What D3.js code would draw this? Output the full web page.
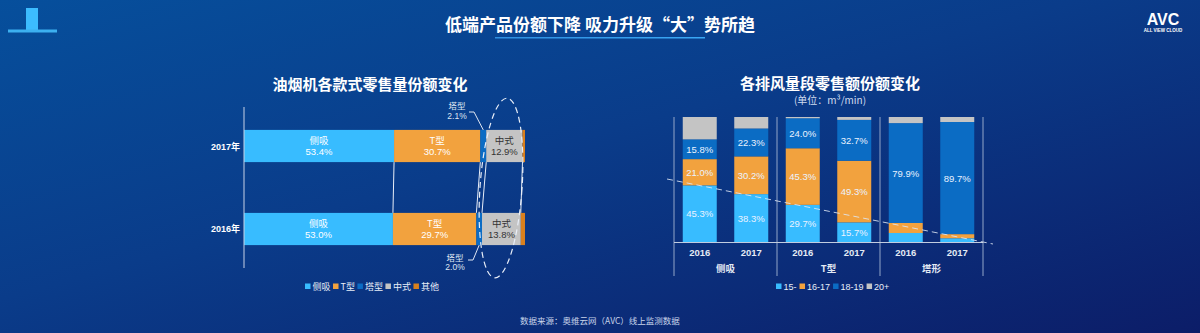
<!DOCTYPE html>
<html><head><meta charset="utf-8">
<script src="https://cdn.jsdelivr.net/npm/d3@7"></script>
<style>
html,body{margin:0;padding:0;background:#0a3a86;}
svg{display:block;font-family:"Liberation Sans","Noto Sans CJK SC",sans-serif;}
</style></head>
<body><svg id="c" width="1200" height="333"></svg>
<script>
// ---- data: left chart ----
const leftYears = ["2017年", "2016年"];
const leftCats = ["侧吸", "T型", "塔型", "中式", "其他"];
const share2017 = [53.4, 30.7, 2.1, 12.9, 0.9];
const share2016 = [53.0, 29.7, 2.0, 13.8, 1.5];
// ---- data: right chart ----
const groups = ["侧吸", "T型", "塔形"];
const years = ["2016", "2017"];
const bands = ["15-", "16-17", "18-19", "20+"];
const v15 = [45.3, 38.3, 29.7, 15.7, 7.2, 3.0];
const v1617 = [21.0, 30.2, 45.3, 49.3, 8.0, 3.3];
const v1819 = [15.8, 22.3, 24.0, 32.7, 79.9, 89.7];
const v20 = [17.9, 9.2, 1.0, 2.3, 4.9, 4.0];

const leftColors = ["#38bcff", "#f2a23e", "#0b6cc4", "#c4c4c4", "#d9801e"];
const rightColors = ["#38bcff", "#f2a23e", "#0b6cc4", "#c4c4c4"];

const svg = d3.select("#c");
const defs = svg.append("defs");
const bg = defs.append("linearGradient").attr("id", "bg").attr("x1", 0).attr("y1", 0).attr("x2", 1).attr("y2", 1);
bg.append("stop").attr("offset", "0%").attr("stop-color", "#064f9c");
bg.append("stop").attr("offset", "45%").attr("stop-color", "#0a3c8a");
bg.append("stop").attr("offset", "100%").attr("stop-color", "#0c1d68");
svg.append("rect").attr("width", 1200).attr("height", 333).attr("fill", "url(#bg)");
const ul = defs.append("linearGradient").attr("id", "ul");
ul.append("stop").attr("offset", "0%").attr("stop-color", "#2f8fe0");
ul.append("stop").attr("offset", "100%").attr("stop-color", "#3aa8f5");

// top-left icon
svg.append("rect").attr("x", 26).attr("y", 8).attr("width", 12).attr("height", 22).attr("fill", "#3cbcff");
svg.append("rect").attr("x", 8).attr("y", 29.5).attr("width", 49).attr("height", 3).attr("fill", "#3cb0f0");

// main title
svg.append("text").attr("x", 600).attr("y", 31).attr("text-anchor", "middle")
  .attr("fill", "#fff").attr("font-size", 17).attr("font-weight", "bold")
  .attr("font-family", "Noto Sans CJK SC")
  .text("低端产品份额下降 吸力升级“大”势所趋");
svg.append("rect").attr("x", 495).attr("y", 37).attr("width", 210).attr("height", 1.5).attr("fill", "url(#ul)");

// logo
svg.append("text").attr("x", 1163).attr("y", 25).attr("text-anchor", "middle").attr("fill", "#fff")
  .attr("font-size", 16).attr("font-weight", "bold").text("AVC");
svg.append("text").attr("x", 1163).attr("y", 31.5).attr("text-anchor", "middle").attr("fill", "#fff")
  .attr("font-size", 4.5).attr("font-weight", "bold").text("ALL VIEW CLOUD");

// source
svg.append("text").attr("x", 600).attr("y", 324).attr("text-anchor", "middle").attr("fill", "#c8d4ea")
  .attr("font-size", 8.5).attr("font-family", "Noto Sans CJK SC").text("数据来源：奥维云网（AVC）线上监测数据");

// ================= LEFT CHART =================
const L = svg.append("g");
L.append("text").attr("x", 370).attr("y", 90).attr("text-anchor", "middle").attr("fill", "#fff")
  .attr("font-size", 15).attr("font-weight", "bold").attr("font-family", "Noto Sans CJK SC")
  .text("油烟机各款式零售量份额变化");

const lx = d3.scaleLinear().domain([0, 100]).range([244, 525]);
const ly = d3.scaleBand().domain(leftYears).range([105, 270]).paddingInner(0.612).paddingOuter(0.3);
const leftData = { "2017年": share2017, "2016年": share2016 };

function cum(arr) { let s = 0; return arr.map(v => { const a = s; s += v; return [a, s]; }); }

// connectors between bars
const c17 = cum(share2017), c16 = cum(share2016);
for (let i = 0; i < 4; i++) {
  L.append("line").attr("x1", lx(c17[i][1])).attr("y1", ly("2017年") + ly.bandwidth())
    .attr("x2", lx(c16[i][1])).attr("y2", ly("2016年"))
    .attr("stroke", "#e8eef8").attr("stroke-width", 1);
}

leftYears.forEach(yr => {
  const segs = cum(leftData[yr]);
  const g = L.append("g");
  g.selectAll("rect").data(segs).join("rect")
    .attr("x", d => lx(d[0])).attr("width", d => lx(d[1]) - lx(d[0]))
    .attr("y", ly(yr)).attr("height", ly.bandwidth())
    .attr("fill", (d, i) => leftColors[i]);
  segs.forEach((d, i) => {
    if (leftData[yr][i] < 5) return;
    const cx = (lx(d[0]) + lx(d[1])) / 2, cy = ly(yr) + ly.bandwidth() / 2;
    const col = i === 3 ? "#333" : "#fff";
    g.append("text").attr("x", cx).attr("y", cy - 2).attr("text-anchor", "middle").attr("fill", col)
      .attr("font-size", 9.5).attr("font-family", "Noto Sans CJK SC").text(leftCats[i]);
    g.append("text").attr("x", cx).attr("y", cy + 9).attr("text-anchor", "middle").attr("fill", col)
      .attr("font-size", 9.5).text(leftData[yr][i].toFixed(1) + "%");
  });
  L.append("text").attr("x", 240).attr("y", ly(yr) + ly.bandwidth() / 2 + 3.5).attr("text-anchor", "end")
    .attr("fill", "#fff").attr("font-size", 9).attr("font-weight", "bold").text(yr);
});
// axis line
L.append("line").attr("x1", 244).attr("x2", 244).attr("y1", 107).attr("y2", 268).attr("stroke", "#c8d2e6").attr("stroke-width", 1);

// tower annotations
const t17 = (lx(c17[2][0]) + lx(c17[2][1])) / 2;
L.append("path").attr("d", `M469,112 L474,112 L${t17},${ly("2017年")}`).attr("fill", "none").attr("stroke", "#dfe6f2");
L.append("text").attr("x", 457).attr("y", 109).attr("text-anchor", "middle").attr("fill", "#dfe6f2")
  .attr("font-size", 8.5).attr("font-family", "Noto Sans CJK SC").text("塔型");
L.append("text").attr("x", 457).attr("y", 119).attr("text-anchor", "middle").attr("fill", "#dfe6f2")
  .attr("font-size", 8.5).text(share2017[2].toFixed(1) + "%");
const t16 = (lx(c16[2][0]) + lx(c16[2][1])) / 2;
L.append("path").attr("d", `M${t16},${ly("2016年") + ly.bandwidth()} L473,260 L468,260`).attr("fill", "none").attr("stroke", "#dfe6f2");
L.append("text").attr("x", 455).attr("y", 261).attr("text-anchor", "middle").attr("fill", "#dfe6f2")
  .attr("font-size", 8.5).attr("font-family", "Noto Sans CJK SC").text("塔型");
L.append("text").attr("x", 455).attr("y", 270).attr("text-anchor", "middle").attr("fill", "#dfe6f2")
  .attr("font-size", 8.5).text(share2016[2].toFixed(1) + "%");

// dashed ellipse
L.append("ellipse").attr("cx", 0).attr("cy", 0).attr("rx", 21).attr("ry", 90)
  .attr("transform", "translate(501,188) rotate(4)")
  .attr("fill", "none").attr("stroke", "#e8eef8").attr("stroke-width", 1.2).attr("stroke-dasharray", "6,4");

// left legend
const llg = L.append("g").attr("transform", "translate(305,287)");
let lxp = 0;
leftCats.forEach((c, i) => {
  llg.append("rect").attr("x", lxp).attr("y", -3.5).attr("width", 5.5).attr("height", 5.5).attr("fill", leftColors[i]);
  const t = llg.append("text").attr("x", lxp + 7.5).attr("y", 2.5).attr("fill", "#e8eef8").attr("font-size", 9)
    .attr("font-family", "Noto Sans CJK SC").text(c);
  lxp += 7.5 + t.node().getComputedTextLength() + 2.5;
});

// ================= RIGHT CHART =================
const R = svg.append("g");
R.append("text").attr("x", 830).attr("y", 89).attr("text-anchor", "middle").attr("fill", "#fff")
  .attr("font-size", 15).attr("font-weight", "bold").attr("font-family", "Noto Sans CJK SC")
  .text("各排风量段零售额份额变化");
R.append("text").attr("x", 830).attr("y", 104).attr("text-anchor", "middle").attr("fill", "#d0dcef")
  .attr("font-size", 10).attr("font-family", "Noto Sans CJK SC").text("(单位：m³/min)");

const gx = d3.scaleBand().domain(groups).range([674, 983]).padding(0);
const bx = d3.scaleBand().domain(years).range([0, gx.bandwidth()]).paddingInner(0.34).paddingOuter(0.17);
const ry = d3.scaleLinear().domain([0, 100]).range([242, 117]);
const series = [v15, v1617, v1819, v20];

groups.forEach((g, gi) => {
  years.forEach((yr, yi) => {
    const idx = gi * 2 + yi;
    let base = 0;
    const x0 = gx(g) + bx(yr);
    series.forEach((s, si) => {
      const v = s[idx];
      R.append("rect").attr("x", x0).attr("width", bx.bandwidth())
        .attr("y", ry(base + v)).attr("height", ry(base) - ry(base + v)).attr("fill", rightColors[si]);
      if (si < 3 && v >= 10) {
        R.append("text").attr("x", x0 + bx.bandwidth() / 2).attr("y", ry(base + v / 2) + 3.5)
          .attr("text-anchor", "middle").attr("fill", "#eaf2ff").attr("font-size", 9.5)
          .text(v.toFixed(1) + "%");
      }
      base += v;
    });
    R.append("text").attr("x", x0 + bx.bandwidth() / 2).attr("y", 256).attr("text-anchor", "middle")
      .attr("fill", "#e4eaf4").attr("font-size", 9.5).attr("font-weight", "bold").text(yr);
  });
  R.append("text").attr("x", gx(g) + gx.bandwidth() / 2).attr("y", 272).attr("text-anchor", "middle")
    .attr("fill", "#e4eaf4").attr("font-size", 9.5).attr("font-weight", "bold")
    .attr("font-family", "Noto Sans CJK SC").text(g);
});
// separators & baseline
const seps = groups.map(g => gx(g)).concat([gx.range()[1]]);
R.selectAll("line.sep").data(seps).join("line").attr("class", "sep")
  .attr("x1", d => d).attr("x2", d => d).attr("y1", 117).attr("y2", 276)
  .attr("stroke", "#93a6c8").attr("stroke-width", 1);
R.append("line").attr("x1", 674).attr("x2", 983).attr("y1", 242.5).attr("y2", 242.5)
  .attr("stroke", "#c2cde0").attr("stroke-width", 1);
// dashed trend
R.append("line").attr("x1", 667).attr("y1", 179).attr("x2", 993).attr("y2", 244)
  .attr("stroke", "#dfe8f5").attr("stroke-width", 1).attr("stroke-dasharray", "6,4").attr("opacity", 0.85);

// right legend
const rlg = R.append("g").attr("transform", "translate(776,287)");
let rxp = 0;
bands.forEach((b, i) => {
  rlg.append("rect").attr("x", rxp).attr("y", -3.5).attr("width", 5.5).attr("height", 5.5).attr("fill", rightColors[i]);
  const t = rlg.append("text").attr("x", rxp + 7.5).attr("y", 2.5).attr("fill", "#e8eef8").attr("font-size", 9).text(b);
  rxp += 7.5 + t.node().getComputedTextLength() + 3;
});
</script></body></html>
